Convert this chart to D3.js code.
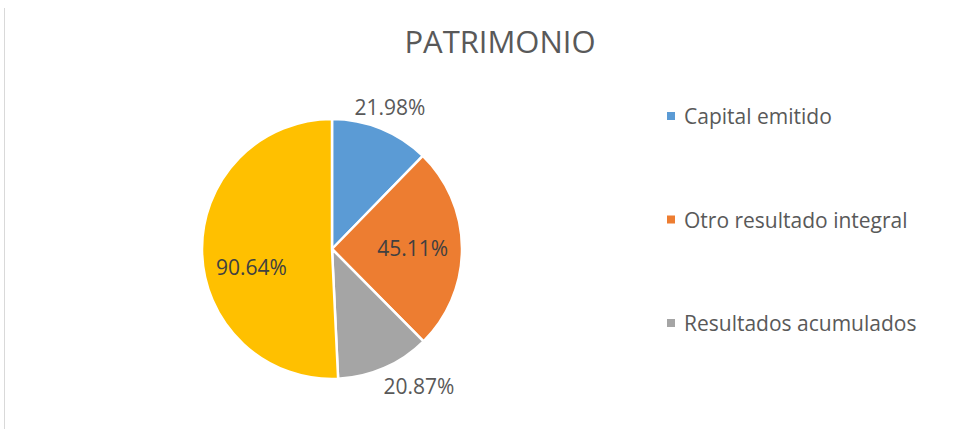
<!DOCTYPE html>
<html>
<head>
<meta charset="utf-8">
<script src="https://cdn.jsdelivr.net/npm/d3@7"></script>
<style>
  html, body { margin: 0; padding: 0; background: #fff; }
  svg { display: block; }
</style>
</head>
<body>
<svg id="chart" width="977" height="429"></svg>
<script>
const title = "PATRIMONIO";
const categories = ["Capital emitido", "Otro resultado integral", "Resultados acumulados", ""];
const values = [21.98, 45.11, 20.87, 90.64];
const labels = ["21.98%", "45.11%", "20.87%", "90.64%"];
const colors = ["#5B9BD5", "#ED7D31", "#A5A5A5", "#FFC000"];

const W = 977, H = 429;
const svg = d3.select("#chart");
svg.append("rect").attr("width", W).attr("height", H).attr("fill", "#fff");
svg.append("line").attr("x1", 4.5).attr("x2", 4.5).attr("y1", 8).attr("y2", H)
  .attr("stroke", "#d9d9d9").attr("stroke-width", 1);

const font = "'Open Sans', 'DejaVu Sans', sans-serif";

svg.append("text").attr("x", 500).attr("y", 53).attr("text-anchor", "middle")
  .attr("font-family", font).attr("font-size", 31).attr("fill", "#595959").text(title);

const cx = 332, cy = 249, R = 130;
const data = categories.map((c, i) => ({ cat: c, value: values[i], label: labels[i], color: colors[i] }));
const pie = d3.pie().sort(null).value(d => d.value);
const arcs = pie(data);
const arc = d3.arc().innerRadius(0).outerRadius(R);
const g = svg.append("g").attr("transform", `translate(${cx},${cy})`);
g.selectAll("path").data(arcs).join("path")
  .attr("d", arc).attr("fill", d => d.data.color)
  .attr("stroke", "#fff").attr("stroke-width", 2.5).attr("stroke-linejoin", "round");

// data labels: Excel "best fit" style
const inner = d3.arc().innerRadius(R * 0.62).outerRadius(R * 0.62);
const outer = d3.arc().innerRadius(R * 1.18).outerRadius(R * 1.18);
const edge = d3.arc().innerRadius(R * 1.04).outerRadius(R * 1.04);
arcs.forEach((a, i) => {
  const span = a.endAngle - a.startAngle;
  const isInside = span > 1.2;
  let x, y, anchor = "middle";
  if (isInside) {
    [x, y] = inner.centroid(a);
    const mid = (a.startAngle + a.endAngle) / 2;
    if (mid > Math.PI) { y += 17; }
    y += 7;
  } else {
    const mid = (a.startAngle + a.endAngle) / 2;
    if (Math.cos(mid) < 0) {
      [x, y] = edge.centroid(a);
      x -= 3;
      anchor = "start";
      y += 21;
    } else {
      [x, y] = outer.centroid(a);
      y += 8;
    }
  }
  g.append("text").attr("x", x).attr("y", y).attr("text-anchor", anchor)
    .attr("font-family", font).attr("font-size", 21)
    .attr("fill", isInside ? "#404040" : "#595959").text(a.data.label);
});

// legend
const legendItems = data.filter(d => d.cat !== "");
const ly = d3.scalePoint().domain(legendItems.map(d => d.cat)).range([116, 323]);
const lg = svg.append("g");
legendItems.forEach(d => {
  lg.append("rect").attr("x", 667).attr("y", ly(d.cat) - 4).attr("width", 8).attr("height", 8).attr("fill", d.color);
  lg.append("text").attr("x", 684).attr("y", ly(d.cat) + 8).attr("font-family", font)
    .attr("font-size", 21).attr("fill", "#595959").text(d.cat);
});
</script>
</body>
</html>
